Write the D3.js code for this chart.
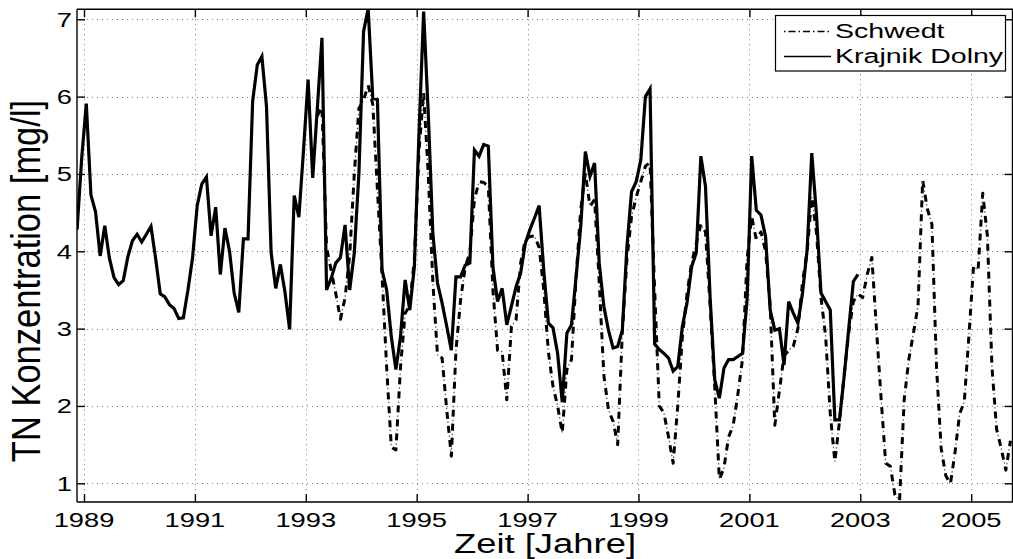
<!DOCTYPE html>
<html>
<head>
<meta charset="utf-8">
<script src="https://cdn.jsdelivr.net/npm/d3@7"></script>
<style>
html,body{margin:0;padding:0;background:#fff;}
text{font-family:"Liberation Sans",Arial,Helvetica,sans-serif;fill:#000;}
</style>
</head>
<body>
<svg id="chart" width="1013" height="559"></svg>
<script>
// ---- data ----
const startYear = 1988;
const startMonth = 11; // first sample: November 1988 (mid-month)
const xTicks = [1989, 1991, 1993, 1995, 1997, 1999, 2001, 2003, 2005];
const yTicks = [1, 2, 3, 4, 5, 6, 7];
const seriesNames = ["Schwedt", "Krajnik Dolny"];
const krajnikStart = 0;
const krajnik = [
4.28,5.20,5.91,4.73,4.51,3.94,4.33,3.91,3.66,3.57,3.62,3.93,
4.14,4.22,4.12,4.22,4.32,3.91,3.45,3.41,3.31,3.26,3.13,3.14,
3.50,3.92,4.59,4.87,4.96,4.20,4.57,3.70,4.30,4.00,3.46,3.21,
4.16,4.16,5.94,6.41,6.52,5.87,3.98,3.52,3.83,3.47,2.99,4.72,
4.44,5.30,6.22,4.95,5.85,6.76,3.50,3.65,3.85,3.92,4.34,3.50,
3.98,5.01,6.84,7.14,5.98,5.96,3.76,3.50,2.90,2.47,2.90,3.63,
3.24,3.80,5.53,7.10,5.79,4.23,3.59,3.33,3.03,2.72,3.67,3.67,
3.82,3.85,5.31,5.23,5.38,5.36,3.80,3.35,3.52,3.05,3.29,3.54,
3.72,4.10,4.28,4.43,4.59,3.75,3.07,3.01,2.68,2.05,2.94,3.05,
3.67,4.32,5.29,4.97,5.14,3.85,3.29,2.98,2.75,2.77,2.98,4.06,
4.77,4.90,5.18,6.00,6.10,2.80,2.73,2.68,2.62,2.45,2.51,3.03,
3.33,3.80,3.98,5.23,4.84,3.40,2.34,2.10,2.49,2.60,2.60,2.64,
2.68,3.37,5.23,4.53,4.47,4.19,3.24,2.98,3.00,2.53,3.35,3.20,
3.07,3.46,4.02,5.27,4.49,3.46,3.35,3.24,1.82,1.82,2.38,3.00,
3.61,3.70
];
const schwedtStart = 52;
const schwedt = [
5.75,5.87,4.05,3.75,3.45,3.12,3.40,3.95,5.00,5.85,5.95,6.15,
5.90,4.80,3.70,2.50,1.47,1.43,2.50,3.20,3.30,3.90,5.30,6.05,
5.00,3.60,2.66,2.62,1.95,1.35,2.72,3.37,3.80,3.98,4.67,4.90,
4.89,4.84,3.50,2.72,2.70,2.08,3.03,3.11,3.85,4.15,4.19,4.20,
4.05,3.50,2.70,2.25,2.00,1.65,2.47,2.60,3.67,4.54,5.01,4.58,
4.67,3.60,2.40,1.95,1.80,1.50,2.95,3.90,4.45,4.70,4.90,5.10,
5.15,3.50,2.00,1.91,1.60,1.26,2.00,2.90,3.45,3.85,4.10,4.35,
4.25,3.30,2.25,1.05,1.20,1.60,1.75,2.15,2.60,3.90,4.45,4.15,
4.25,4.00,3.30,1.75,2.20,2.65,2.72,2.77,3.00,3.60,4.00,4.70,
4.25,3.40,2.90,1.90,1.28,1.80,2.40,2.95,3.35,3.45,3.40,3.70,
3.92,3.00,2.10,1.26,1.22,0.85,0.78,2.08,2.60,2.94,3.30,4.92,
4.55,4.35,2.50,1.45,1.10,0.99,1.40,1.90,2.05,2.90,3.80,3.76,
4.75,4.20,2.50,1.70,1.45,1.17,1.55
];

// ---- layout ----
const L = 77, R = 1013, T = 9.3, B = 502;
const SX = 1.3; // horizontal stretch of text in the original
const svg = d3.select("#chart");

const x = d3.scaleLinear().domain([1988.874, 2005.754]).range([L, R]);
const y = d3.scaleLinear().domain([0.758, 7.129]).range([B, T]);
const tOf = i => startYear + (startMonth - 1 + 0.5 + i) / 12;

const kData = krajnik.map((v, i) => ({t: tOf(krajnikStart + i), v}));
const sData = schwedt.map((v, i) => ({t: tOf(schwedtStart + i), v}));

svg.append("defs").append("clipPath").attr("id", "clip")
  .append("rect").attr("x", L).attr("y", T).attr("width", R - L).attr("height", B - T);

// grid
const grid = svg.append("g").attr("stroke", "#7a7a7a").attr("stroke-width", 1)
  .attr("stroke-dasharray", "1,4");
grid.selectAll("line.gx").data(xTicks).join("line").attr("class", "gx")
  .attr("x1", d => Math.round(x(d)) + 0.5).attr("x2", d => Math.round(x(d)) + 0.5)
  .attr("y1", T).attr("y2", B);
grid.selectAll("line.gy").data(yTicks).join("line").attr("class", "gy")
  .attr("y1", d => Math.round(y(d)) + 0.5).attr("y2", d => Math.round(y(d)) + 0.5)
  .attr("x1", L).attr("x2", R);

// lines
const line = d3.line().x(d => x(d.t)).y(d => y(d.v));
const plot = svg.append("g").attr("clip-path", "url(#clip)");
plot.append("path").datum(sData).attr("d", line).attr("fill", "none")
  .attr("stroke", "#000").attr("stroke-width", 3).attr("stroke-dasharray", "7,7")
  .attr("stroke-linejoin", "round");
plot.append("path").datum(sData).attr("d", line).attr("fill", "none")
  .attr("stroke", "#555").attr("stroke-width", 1.2).attr("stroke-dasharray", "0,9.5,1.5,3");
plot.append("path").datum(kData).attr("d", line).attr("fill", "none")
  .attr("stroke", "#000").attr("stroke-width", 3.2).attr("stroke-linejoin", "miter");

// axes (ticks inward on all four sides)
const tk = 8;
const axB = svg.append("g").attr("transform", `translate(0,${B})`)
  .call(d3.axisBottom(x).tickValues(xTicks).tickSize(-tk).tickFormat(""));
const axT = svg.append("g").attr("transform", `translate(0,${T})`)
  .call(d3.axisTop(x).tickValues(xTicks).tickSize(-tk).tickFormat(""));
const axL = svg.append("g").attr("transform", `translate(${L},0)`)
  .call(d3.axisLeft(y).tickValues(yTicks).tickSize(-tk).tickFormat(""));
const axR = svg.append("g").attr("transform", `translate(${R - 0.5},0)`)
  .call(d3.axisRight(y).tickValues(yTicks).tickSize(-tk).tickFormat(""));
[axB, axT, axL, axR].forEach(a => {
  a.select(".domain").attr("stroke", "#000").attr("stroke-width", 1.4);
  a.selectAll(".tick line").attr("stroke", "#000").attr("stroke-width", 1.4);
});
axB.select(".domain").attr("d", `M${L},0H${R}`);
axT.select(".domain").attr("d", `M${L},0H${R}`);
axL.select(".domain").attr("d", `M0,${T}V${B}`);
axR.select(".domain").attr("d", `M0,${T}V${B}`);

// tick labels (stretched horizontally like the original)
svg.append("g").selectAll("text").data(xTicks).join("text")
  .attr("transform", d => `translate(${x(d)},${526.5}) scale(${SX},1)`)
  .attr("text-anchor", "middle").attr("font-size", 21).text(d => d);
svg.append("g").selectAll("text").data(yTicks).join("text")
  .attr("transform", d => `translate(72,${y(d) + 7.5}) scale(${SX},1)`)
  .attr("text-anchor", "end").attr("font-size", 21).text(d => d);

// axis titles
svg.append("text")
  .attr("transform", `translate(${(L + R) / 2},552.5) scale(${SX},1)`)
  .attr("text-anchor", "middle").attr("font-size", 28).text("Zeit [Jahre]");
svg.append("text")
  .attr("transform", `translate(40,281) scale(1.18,1) rotate(-90)`)
  .attr("text-anchor", "middle").attr("font-size", 34.5).text("TN Konzentration [mg/l]");

// legend
const lg = svg.append("g");
lg.append("rect").attr("x", 775.5).attr("y", 15.5).attr("width", 230).attr("height", 55.5)
  .attr("fill", "#fff").attr("stroke", "#000").attr("stroke-width", 1.2);
const rows = [
  {name: seriesNames[0], y: 31.5, dash: "1.5,3,7,3"},
  {name: seriesNames[1], y: 56.5, dash: null}
];
rows.forEach(r => {
  const ln = lg.append("line").attr("x1", 784).attr("x2", 831).attr("y1", r.y).attr("y2", r.y)
    .attr("stroke", "#000").attr("stroke-width", 1.6);
  if (r.dash) ln.attr("stroke-dasharray", r.dash);
  lg.append("text").attr("transform", `translate(835,${r.y + 6.8}) scale(1.36,1)`)
    .attr("font-size", 21).text(r.name);
});
</script>
</body>
</html>
